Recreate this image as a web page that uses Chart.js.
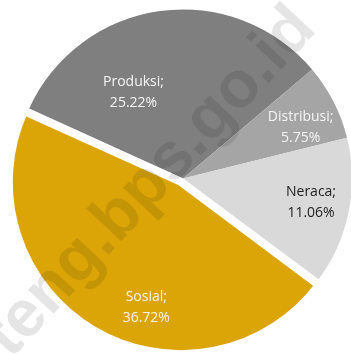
<!DOCTYPE html>
<html>
<head>
<meta charset="utf-8">
<script src="https://cdn.jsdelivr.net/npm/chart.js@4/dist/chart.umd.min.js"></script>
<style>
  html, body { margin: 0; padding: 0; background: #ffffff; overflow: hidden; }
  #wrap { position: relative; width: 351px; height: 354px; }
</style>
</head>
<body>
<div id="wrap"><canvas id="pie"></canvas></div>
<script>
// share per sector (%), as printed on each slice
const categories = ["Produksi", "Distribusi", "Neraca", "Sosial"];
const shares = [25.22, 5.75, 11.06, 36.72];

const sliceColors = ["#7f7f7f", "#a5a5a5", "#d9d9d9", "#dba508"];
const labelColors = ["#f5f5f5", "#f5f5f5", "#1e1e1e", "#f5f5f5"];
const explode = [0, 0, 0, 16];
const borders = [0, 0, 0, 8];
// where each label sits: fraction along the slice angle, fraction of radius
const labelSpots = [[0.31, 0.59], [0.63, 0.76], [0.48, 0.77], [0.41, 0.77]];

const sliceLabels = {
  id: "sliceLabels",
  afterDatasetsDraw (chart) {
    const ctx = chart.ctx;
    const meta = chart.getDatasetMeta(0);
    ctx.save();
    ctx.font = "14px 'Open Sans', 'Noto Sans', sans-serif";
    ctx.textAlign = "center";
    ctx.textBaseline = "middle";
    meta.data.forEach((arc, i) => {
      const p = arc.getProps(["x", "y", "startAngle", "endAngle", "outerRadius"], true);
      const mid = (p.startAngle + p.endAngle) / 2;
      const off = (explode[i] || 0) / 4;
      const cx = p.x + Math.cos(mid) * off;
      const cy = p.y + Math.sin(mid) * off;
      const [f, rf] = labelSpots[i];
      const a = p.startAngle + (p.endAngle - p.startAngle) * f;
      const lx = cx + Math.cos(a) * p.outerRadius * rf;
      const ly = cy + Math.sin(a) * p.outerRadius * rf;
      ctx.fillStyle = labelColors[i];
      ctx.fillText(categories[i] + ";", lx, ly - 10);
      ctx.fillText(shares[i].toFixed(2) + "%", lx, ly + 11);
    });
    ctx.restore();
  }
};

const watermark = {
  id: "watermark",
  afterDraw (chart) {
    const ctx = chart.ctx;
    ctx.save();
    ctx.translate(318, 30);
    ctx.rotate(-47 * Math.PI / 180);
    ctx.font = "bold 66px 'Liberation Sans', Arial, sans-serif";
    ctx.fillStyle = "rgba(0, 0, 0, 0.1)";
    ctx.textAlign = "right";
    ctx.textBaseline = "alphabetic";
    ctx.fillText("jateng.bps.go.id", 0, 0);
    ctx.restore();
  }
};

new Chart(document.getElementById("pie"), {
  type: "pie",
  data: {
    labels: categories,
    datasets: [{
      data: shares,
      backgroundColor: sliceColors,
      borderColor: "#ffffff",
      borderWidth: borders,
      offset: explode
    }]
  },
  options: {
    responsive: true,
    maintainAspectRatio: false,
    animation: false,
    rotation: -65.5,
    radius: 169,
    layout: { padding: { left: 15, right: 0, top: 3, bottom: 0 } },
    plugins: {
      legend: { display: false },
      tooltip: { enabled: false }
    },
    events: []
  },
  plugins: [sliceLabels, watermark]
});
</script>
</body>
</html>
